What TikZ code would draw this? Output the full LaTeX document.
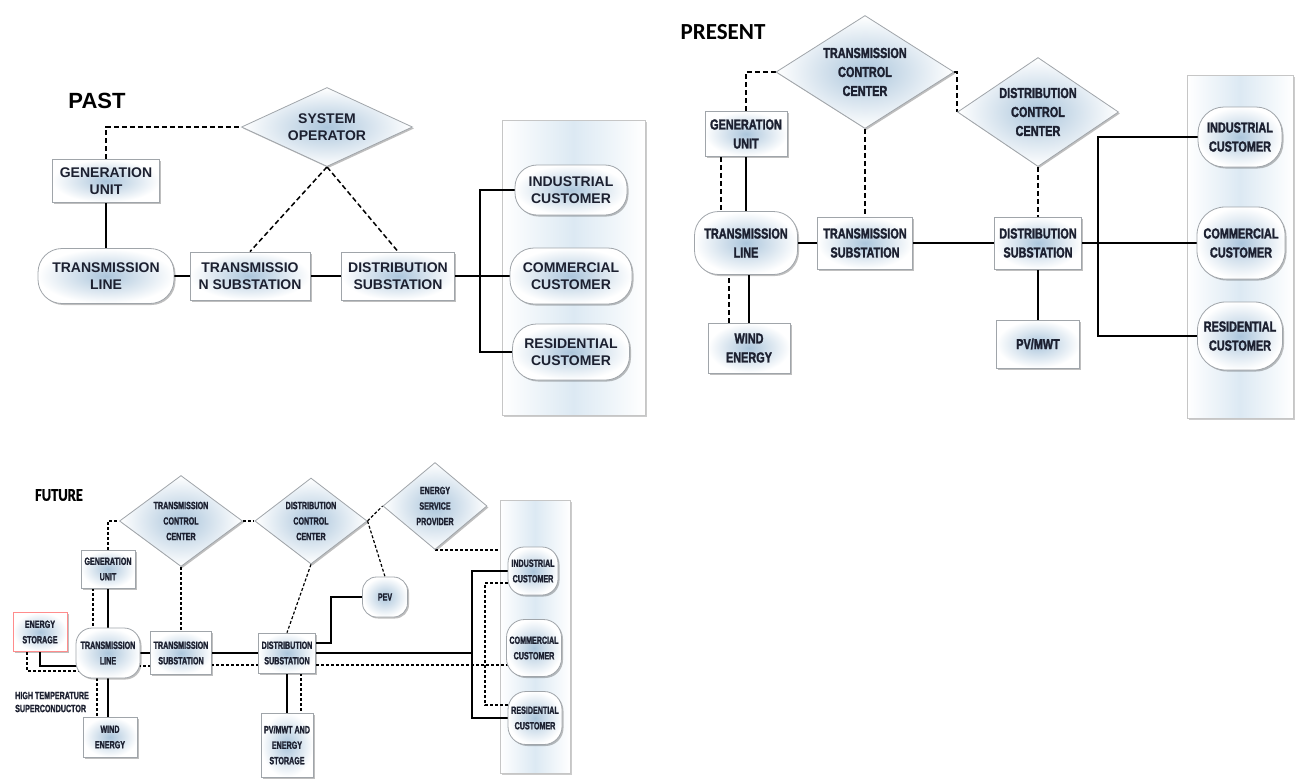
\documentclass[tikz,border=0pt]{standalone}
\usepackage{pgf,tikz}
\usepackage{fontspec}
\usetikzlibrary{shapes.geometric,shadows,backgrounds}

\newfontfamily\pastfont{Liberation Sans Bold}
\newfontfamily\presfont[FakeStretch=0.75, FakeBold=1.8]{Liberation Sans Bold}
\newfontfamily\futfont[FakeStretch=0.68, FakeBold=1.4]{Liberation Sans Bold}
\newfontfamily\headfont{Carlito Bold}
\newfontfamily\headnarrow[FakeStretch=0.8, FakeBold=1]{Carlito Bold}

\definecolor{nodeblue}{RGB}{172,198,220}
\definecolor{panelblue}{RGB}{220,233,243}
\definecolor{edgegray}{RGB}{160,165,170}
\definecolor{inktext}{RGB}{28,32,48}

\tikzset{
  box/.style={draw=edgegray, line width=0.8pt, inner color=nodeblue, outer color=white,
    align=center, inner sep=1pt, text=inktext,
    drop shadow={shadow xshift=1.5pt, shadow yshift=-1.5pt, opacity=0.25, fill=black}},
  pill/.style={box, rounded corners=#1},
  dia/.style={box, diamond, aspect=1.6, inner sep=0pt},
  panel/.style={draw=gray!45, line width=1pt, left color=white, right color=white,
    middle color=panelblue,
    drop shadow={shadow xshift=1.5pt, shadow yshift=-1.5pt, opacity=0.2, fill=black}},
  sz/.style 2 args={minimum width=#1, minimum height=#2},
  ln/.style={line width=1.5pt},
  dsh/.style={line width=1.5pt, dash pattern=on 5pt off 3pt},
  fln/.style={line width=1.2pt},
  fdsh/.style={line width=1.2pt, dash pattern=on 3pt off 2pt},
  title/.style={inner sep=0pt, text=black}
}

\begin{document}
\begin{tikzpicture}[x=1pt, y=-1pt]
\useasboundingbox (0,0) rectangle (1295,780);
\begin{scope}[on background layer]
  \fill[white] (0,0) rectangle (1295,780);
  \node[panel, sz={143}{295}] (pPanel) at (573.5,267.5) {};
  \node[panel, sz={106}{343}] (nPanel) at (1240,246.5) {};
  \node[panel, sz={70}{273}] (fPanel) at (535,636.5) {};
\end{scope}

% past
\begin{scope}[every node/.append style={font=\pastfont\fontsize{14}{17}\selectfont}]
  \node[title, font=\pastfont\fontsize{22}{24}\selectfont] (pastT) at (97,101) {PAST};
  \node[dia, aspect=2.2, sz={171}{79}] (pSys) at (327,127) {SYSTEM\\OPERATOR};
  \node[box, sz={107}{43}] (pGen) at (106,181) {GENERATION\\UNIT};
  \node[pill=24pt, sz={136}{55}] (pLine) at (106,276) {TRANSMISSION\\LINE};
  \node[box, sz={120}{48}] (pTS) at (250,276) {TRANSMISSIO\\N SUBSTATION};
  \node[box, sz={113}{48}] (pDS) at (398,276) {DISTRIBUTION\\SUBSTATION};
  \node[pill=22pt, sz={112}{50}] (pInd) at (571,190) {INDUSTRIAL\\CUSTOMER};
  \node[pill=24pt, sz={122}{56}] (pCom) at (571,276) {COMMERCIAL\\CUSTOMER};
  \node[pill=24pt, sz={117}{56}] (pRes) at (571,352) {RESIDENTIAL\\CUSTOMER};
  \coordinate (pBus) at (480,276);
  \begin{scope}[on background layer]
    \draw[dsh] (pGen.north) |- (pSys.west);
    \draw[dsh] (pSys.south) -- (pTS.north);
    \draw[dsh] (pSys.south) -- (pDS.north);
    \draw[ln] (pGen) -- (pLine);
    \draw[ln] (pLine) -- (pTS) -- (pDS) -- (pCom);
    \draw[ln] (pInd) -| (pBus) |- (pRes);
  \end{scope}
\end{scope}

% present
\begin{scope}[every node/.append style={font=\presfont\fontsize{14.5}{19}\selectfont}]
  \node[title, font=\headfont\fontsize{23}{25}\selectfont] (nowT) at (723,32) {PRESENT};
  \node[dia, sz={178}{113}] (nTCC) at (865,72) {TRANSMISSION\\CONTROL\\CENTER};
  \node[dia, sz={161}{109}] (nDCC) at (1038,112) {DISTRIBUTION\\CONTROL\\CENTER};
  \node[box, sz={82}{45}] (nGen) at (746,134) {GENERATION\\UNIT};
  \node[pill=24pt, sz={103}{63}] (nLine) at (746,243) {TRANSMISSION\\LINE};
  \node[box, sz={95}{52}] (nTS) at (865,243) {TRANSMISSION\\SUBSTATION};
  \node[box, sz={87}{52}] (nDS) at (1038,243) {DISTRIBUTION\\SUBSTATION};
  \node[box, sz={82}{50}] (nWind) at (749,348) {WIND\\ENERGY};
  \node[box, sz={83}{48}] (nPV) at (1038,344) {PV/MWT};
  \node[pill=26pt, sz={84}{60}] (nInd) at (1240,137) {INDUSTRIAL\\CUSTOMER};
  \node[pill=28pt, sz={88}{72}] (nCom) at (1241,243) {COMMERCIAL\\CUSTOMER};
  \node[pill=28pt, sz={85}{68}] (nRes) at (1240,336) {RESIDENTIAL\\CUSTOMER};
  \coordinate (nBus) at (1098,243);
  \begin{scope}[on background layer]
    \draw[dsh] (nGen.north) |- (nTCC.west);
    \draw[dsh] (nTCC.east) -| (nDCC.west);
    \draw[dsh] (nTCC) -- (nTS);
    \draw[ln] (nGen) -- (nLine);
    \draw[dsh] ([xshift=-25]nGen.south) -- ([xshift=-25]nGen.south |- nLine.north);
    \draw[ln] (nWind) -- (nWind |- nLine);
    \draw[dsh] ([xshift=-20]nWind.north) -- ([xshift=-20]nWind.north |- nLine.south);
    \draw[ln] (nLine) -- (nTS) -- (nDS) -- (nCom);
    \draw[dsh] (nDCC) -- (nDS);
    \draw[ln] (nDS) -- (nPV);
    \draw[ln] (nInd) -| (nBus) |- (nRes);
  \end{scope}
\end{scope}

% future
\begin{scope}[every node/.append style={font=\futfont\fontsize{10.5}{15.5}\selectfont}]
  \node[title, font=\headnarrow\fontsize{18}{20}\selectfont] (futT) at (59,495) {FUTURE};
  \node[dia, sz={123}{91}] (fTCC) at (181,521) {TRANSMISSION\\CONTROL\\CENTER};
  \node[dia, sz={107}{86}] (fDCC) at (311,521) {DISTRIBUTION\\CONTROL\\CENTER};
  \node[dia, sz={104}{87}] (fESP) at (435,506) {ENERGY\\SERVICE\\PROVIDER};
  \node[box, sz={54}{38}] (fGen) at (108,569) {GENERATION\\UNIT};
  \node[box, sz={54}{39}, draw=red!45] (fStore) at (40,632) {ENERGY\\STORAGE};
  \node[pill=16pt, sz={64}{50}] (fLine) at (108,653) {TRANSMISSION\\LINE};
  \node[box, sz={61}{43}] (fTS) at (181,653) {TRANSMISSION\\SUBSTATION};
  \node[box, sz={57}{40}] (fDS) at (287,653) {DISTRIBUTION\\SUBSTATION};
  \node[pill=14pt, sz={45}{40}] (fPEV) at (385,597) {PEV};
  \node[box, sz={52}{64}] (fPV) at (287,745) {PV/MWT AND\\ENERGY\\STORAGE};
  \node[box, sz={54}{40}] (fWind) at (110,737) {WIND\\ENERGY};
  \node[pill=16pt, sz={50}{48}] (fInd) at (533,571) {INDUSTRIAL\\CUSTOMER};
  \node[pill=18pt, sz={55}{57}] (fCom) at (534,648) {COMMERCIAL\\CUSTOMER};
  \node[pill=18pt, sz={54}{53}] (fRes) at (535,718) {RESIDENTIAL\\CUSTOMER};
  \node[anchor=west, align=left, inner sep=0pt, text=inktext,
    font=\futfont\fontsize{10.5}{13}\selectfont] (fHTS) at (15,702) {HIGH TEMPERATURE\\SUPERCONDUCTOR};
  \coordinate (fBus) at (472,653);
  \coordinate (fDBus) at (485,640);
  \begin{scope}[on background layer]
    \draw[fdsh] (fGen.north) |- (fTCC.west);
    \draw[fdsh] (fTCC.east) -- (fDCC.west);
    \draw[fdsh] (fTCC) -- (fTS);
    \draw[fln] (fGen) -- (fLine);
    \draw[fdsh] ([xshift=-15]fGen.south) -- ([xshift=-15]fGen.south |- fLine.north);
    \draw[fln] (fLine) -- (fLine |- fWind);
    \draw[fdsh] ([xshift=-11]fLine.south) -- ([xshift=-11]fLine.south |- fWind.north);
    \draw[fln] (fStore) |- ([yshift=-13]fLine.center);
    \draw[fdsh] ([xshift=-13]fStore.center) |- ([yshift=-18]fLine.center);
    \draw[fln] (fLine) -- (fTS) -- (fDS) -- (fBus);
    \draw[fdsh] ([yshift=-13]fLine.center) -- ([yshift=-13]fTS.center);
    \draw[fdsh] ([yshift=-12]fTS.center) -- ([yshift=-12]fTS.center -| fCom);
    \draw[fln] (fInd) -| (fBus) |- (fRes);
    \draw[fdsh] ([yshift=-12]fInd.center) -| (fDBus) |- ([yshift=13]fRes.center);
    \draw[fln] ([yshift=10]fDS.east) -- ++(15,0) |- (fPEV);
    \draw[fdsh] (fDCC.south) -- (fDS.north);
    \draw[fdsh] (fDCC.east) -- (fESP.west);
    \draw[fdsh] (fDCC.east) -- (fPEV.north);
    \draw[fdsh] (fESP.south) -- (fESP.south -| fPanel.west);
    \draw[fln] (fDS) -- (fPV);
    \draw[fdsh] ([xshift=14]fDS.south) -- ([xshift=14]fDS.south |- fPV.north);
  \end{scope}
\end{scope}
\end{tikzpicture}
\end{document}
